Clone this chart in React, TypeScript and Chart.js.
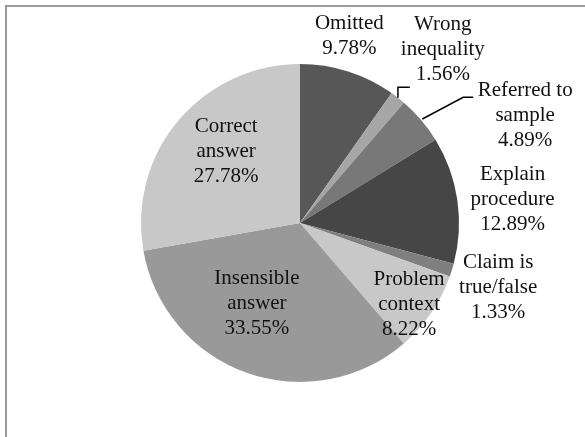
import React, { useEffect, useRef } from "react";
import { Chart, registerables } from "chart.js";

Chart.register(...registerables);

const categories = [
  "Omitted",
  "Wrong inequality",
  "Referred to sample",
  "Explain procedure",
  "Claim is true/false",
  "Problem context",
  "Insensible answer",
  "Correct answer",
];
const values = [9.78, 1.56, 4.89, 12.89, 1.33, 8.22, 33.55, 27.78];
const labelLines = [
  ["Omitted"],
  ["Wrong", "inequality"],
  ["Referred to", "sample"],
  ["Explain", "procedure"],
  ["Claim is", "true/false"],
  ["Problem", "context"],
  ["Insensible", "answer"],
  ["Correct", "answer"],
];
const sliceColors = [
  "#575757",
  "#a6a6a6",
  "#787878",
  "#464646",
  "#7f7f7f",
  "#c8c8c8",
  "#999999",
  "#c8c8c8",
];

// label placement: radius factor and angle nudge (deg) relative to slice mid angle
const labelRadius = [1.215, 1.415, 1.57, 1.345, 1.31, 0.855, 0.572, 0.648];
const labelNudge = [-2.8, 1.4, 14.8, 2.0, 0.7, 2.2, 8.7, 4.2];

const FONT = '21px "Liberation Serif", "Times New Roman", serif';
const LINE_H = 25;

const labelPlugin = {
  id: "sliceLabels",
  afterDatasetsDraw(chart: any) {
    const ctx = chart.ctx;
    const meta = chart.getDatasetMeta(0);
    ctx.save();
    ctx.font = FONT;
    ctx.fillStyle = "#111";
    ctx.textAlign = "center";
    ctx.textBaseline = "middle";
    meta.data.forEach((arc: any, i: number) => {
      const { x, y, startAngle, endAngle, outerRadius } = arc.getProps(
        ["x", "y", "startAngle", "endAngle", "outerRadius"],
        true
      );
      const mid = (startAngle + endAngle) / 2;
      const a = mid + (labelNudge[i] * Math.PI) / 180;
      const cx = x + Math.cos(a) * labelRadius[i] * outerRadius;
      const cy = y + Math.sin(a) * labelRadius[i] * outerRadius;
      const lines = [...labelLines[i], values[i].toFixed(2) + "%"];
      lines.forEach((t, j) => {
        ctx.fillText(t, cx, cy + (j - (lines.length - 1) / 2) * LINE_H);
      });

      // leader lines for the two thin top slices
      if (i === 1 || i === 2) {
        const px = x + Math.cos(mid) * outerRadius * (i === 1 ? 1.0 : 1.01);
        const py = y + Math.sin(mid) * outerRadius * (i === 1 ? 1.0 : 1.01);
        let ex: number, ey: number, bx: number;
        if (i === 1) {
          ex = cx - 33;
          ey = cy + 38;
          bx = px;
        } else {
          ex = cx - 52;
          ey = cy - 18;
          bx = ex - 10;
        }
        ctx.beginPath();
        ctx.strokeStyle = "#000";
        ctx.lineWidth = 1.5;
        ctx.moveTo(px, py);
        ctx.lineTo(bx, ey);
        ctx.lineTo(ex, ey);
        ctx.stroke();
      }
    });
    ctx.restore();
  },
};

export default function App() {
  const ref = useRef<HTMLCanvasElement>(null);
  useEffect(() => {
    if (!ref.current) return;
    const chart = new Chart(ref.current, {
      type: "pie",
      data: {
        labels: categories,
        datasets: [
          {
            data: values,
            backgroundColor: sliceColors,
            borderWidth: 0,
          },
        ],
      },
      options: {
        animation: false,
        responsive: false,
        maintainAspectRatio: false,
        layout: { padding: { left: 134, right: 126, top: 57, bottom: 55 } },
        plugins: {
          legend: { display: false },
          tooltip: { enabled: false },
        },
      },
      plugins: [labelPlugin],
    });
    return () => chart.destroy();
  }, []);
  return (
    <div
      style={{
        position: "fixed",
        left: 5,
        top: 5,
        width: 580,
        height: 432,
        borderTop: "2px solid #9a9a9a",
        borderLeft: "2px solid #9a9a9a",
        background: "#fff",
      }}
    >
      <canvas ref={ref} width={578} height={430} style={{ display: "block" }} />
    </div>
  );
}
